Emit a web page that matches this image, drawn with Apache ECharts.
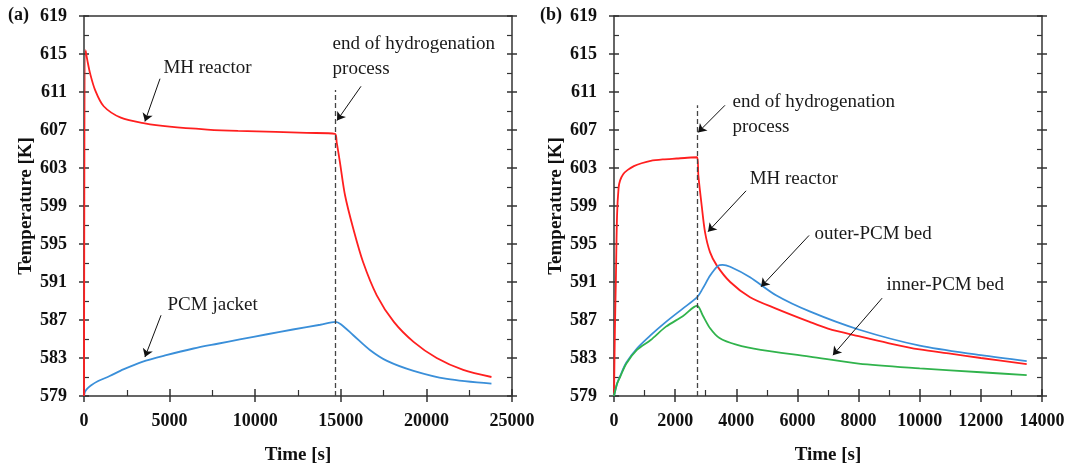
<!DOCTYPE html>
<html>
<head>
<meta charset="utf-8">
<script src="https://cdn.jsdelivr.net/npm/echarts@6/dist/echarts.min.js"></script>
<style>
  * { margin: 0; padding: 0; }
  #main { width: 1070px; height: 470px; background: #fff; }
</style>
</head>
<body>
<div id="main"></div>
<script>
  // (a) MH reactor with PCM jacket
  var aMhTime  = [0, 90, 200, 350, 650, 1150, 2150, 3550, 5000, 7200, 9000, 11200, 13000, 14660, 14760, 14950, 15250, 15730, 16300, 17100, 18100, 19250, 20600, 22150, 23800];
  var aMhTemp  = [579, 615.4, 614.3, 613.0, 611.2, 609.5, 608.3, 607.7, 607.35, 607.05, 606.9, 606.8, 606.7, 606.6, 605.7, 603.6, 600.1, 596.6, 593.1, 589.6, 586.8, 584.7, 583.0, 581.75, 581.0];
  var aPcmTime = [0, 50, 150, 400, 800, 1500, 2300, 3400, 4800, 6400, 7800, 9100, 10700, 12200, 13800, 14700, 15000, 15730, 16700, 17700, 19250, 21200, 23800];
  var aPcmTemp = [579, 579.4, 579.7, 580.1, 580.55, 581.1, 581.8, 582.6, 583.3, 584.0, 584.5, 584.95, 585.5, 586.0, 586.5, 586.8, 586.55, 585.4, 583.85, 582.7, 581.65, 580.8, 580.3];

  // (b) MH reactor with outer and inner PCM beds
  var bMhTime    = [0, 30, 60, 100, 150, 200, 300, 450, 650, 900, 1200, 1600, 2050, 2400, 2720, 2760, 2870, 2980, 3140, 3360, 3800, 4450, 5300, 6400, 7000, 8000, 9000, 10000, 11000, 12000, 13500];
  var bMhTemp    = [579, 586, 591, 598, 600.9, 601.7, 602.35, 602.8, 603.2, 603.5, 603.75, 603.9, 604.0, 604.08, 604.13, 602.2, 599.0, 596.2, 594.15, 592.75, 591.0, 589.4, 588.2, 586.8, 586.1, 585.3, 584.55, 583.9, 583.45, 583.0, 582.35];
  var bOuterTime = [0, 100, 200, 400, 750, 1200, 1700, 2250, 2720, 2900, 3150, 3400, 3550, 3800, 4450, 5300, 6400, 8000, 10000, 12000, 13500];
  var bOuterTemp = [579, 580.3, 581.1, 582.5, 584.0, 585.4, 586.8, 588.2, 589.4, 590.3, 591.7, 592.7, 592.8, 592.6, 591.5, 589.6, 587.9, 586.0, 584.3, 583.3, 582.67];
  var bInnerTime = [0, 100, 200, 400, 750, 1200, 1700, 2250, 2720, 2900, 3150, 3450, 4000, 4800, 6400, 8000, 10000, 12000, 13500];
  var bInnerTemp = [579, 580.3, 581.0, 582.4, 583.85, 584.9, 586.3, 587.4, 588.5, 587.5, 586.1, 585.1, 584.4, 583.85, 583.15, 582.4, 581.9, 581.5, 581.2];

  var tempMin = 579, tempMax = 619, tempStep = 4;
  var aTimeMax = 25000, aTimeStep = 5000;
  var bTimeMax = 14000, bTimeStep = 2000;

  var serif = 'Liberation Serif';
  var axisColor = '#333';

  function pairs(xs, ys) {
    return xs.map(function (x, i) { return [x, ys[i]]; });
  }

  // x axes of one panel: bottom (labels, inner ticks), bottom outer ticks, top border
  function xAxes(g, max, step) {
    var base = { type: 'value', gridIndex: g, min: 0, max: max, interval: step, splitLine: { show: false } };
    return [
      Object.assign({}, base, {
        position: 'bottom',
        name: 'Time [s]', nameLocation: 'middle', nameGap: 50,
        nameTextStyle: { fontFamily: serif, fontWeight: 'bold', fontSize: 19, color: '#111' },
        axisLine: { onZero: false, lineStyle: { color: axisColor, width: 1.5 } },
        axisTick: { inside: true, length: 7, lineStyle: { color: axisColor, width: 1.5 } },
        minorTick: { show: true, splitNumber: 2, length: 6, lineStyle: { color: axisColor, width: 1.2 } },
        axisLabel: { margin: 16, fontFamily: serif, fontWeight: 'bold', fontSize: 18, color: '#111',
          formatter: function (v) { return String(v); } }
      }),
      Object.assign({}, base, {
        position: 'bottom',
        axisLine: { show: false, onZero: false },
        axisTick: { inside: false, length: 6, lineStyle: { color: axisColor, width: 1.5 } },
        axisLabel: { show: false }
      }),
      Object.assign({}, base, {
        position: 'top',
        axisLine: { onZero: false, lineStyle: { color: axisColor, width: 1.5 } },
        axisTick: { show: false },
        axisLabel: { show: false }
      })
    ];
  }

  // y axes of one panel: left (labels), left outer ticks, right inner ticks, right outer ticks
  function yAxes(g) {
    var base = { type: 'value', gridIndex: g, min: tempMin, max: tempMax, interval: tempStep, splitLine: { show: false } };
    var inTick = { inside: true, length: 5, lineStyle: { color: axisColor, width: 1.5 } };
    var outTick = { inside: false, length: 5, lineStyle: { color: axisColor, width: 1.5 } };
    var minor = { show: true, splitNumber: 2, length: 5, lineStyle: { color: axisColor, width: 1.2 } };
    return [
      Object.assign({}, base, {
        position: 'left',
        name: 'Temperature [K]', nameLocation: 'middle', nameGap: 48,
        nameTextStyle: { fontFamily: serif, fontWeight: 'bold', fontSize: 19, color: '#111' },
        axisLine: { onZero: false, lineStyle: { color: axisColor, width: 1.5 } },
        axisTick: inTick, minorTick: minor,
        axisLabel: { margin: 17, fontFamily: serif, fontWeight: 'bold', fontSize: 18, color: '#111' }
      }),
      Object.assign({}, base, {
        position: 'left',
        axisLine: { show: false, onZero: false },
        axisTick: outTick, axisLabel: { show: false }
      }),
      Object.assign({}, base, {
        position: 'right',
        axisLine: { onZero: false, lineStyle: { color: axisColor, width: 1.5 } },
        axisTick: inTick, minorTick: minor, axisLabel: { show: false }
      }),
      Object.assign({}, base, {
        position: 'right',
        axisLine: { show: false, onZero: false },
        axisTick: outTick, axisLabel: { show: false }
      })
    ];
  }

  function curve(name, xi, yi, data, color) {
    return {
      name: name, type: 'line', xAxisIndex: xi, yAxisIndex: yi,
      data: data, showSymbol: false, smooth: 0.3,
      lineStyle: { color: color, width: 1.8 }, itemStyle: { color: color },
      silent: true, animation: false
    };
  }

  function arrows(list) {
    return {
      silent: true, symbol: ['none', 'arrow'], symbolSize: 8, animation: false,
      lineStyle: { color: '#111', width: 1, type: 'solid' },
      label: { show: false },
      data: list.map(function (a) { return [{ coord: a[0] }, { coord: a[1] }]; })
    };
  }

  function dashed(x, top) {
    return {
      silent: true, symbol: ['none', 'none'], animation: false,
      lineStyle: { color: '#444', width: 1.3, type: [5, 3] },
      label: { show: false },
      data: [[{ coord: [x, tempMin] }, { coord: [x, top] }]]
    };
  }

  function notes(list) {
    return {
      silent: true, symbol: 'circle', symbolSize: 1, animation: false,
      itemStyle: { color: 'rgba(0,0,0,0)' },
      label: { show: true, position: 'right', distance: 0, fontFamily: serif, fontSize: 19,
        color: '#1a1a1a', lineHeight: 25, formatter: '{b}' },
      data: list.map(function (n) { return { name: n[0], coord: n[1] }; })
    };
  }

  var red = '#ff1f1f', blue = '#3a8fd9', green = '#30b34c';

  var aMh = curve('MH reactor', 0, 0, pairs(aMhTime, aMhTemp), red);
  aMh.markLine = arrows([
    [[4440, 612.4], [3560, 607.9]],
    [[16180, 611.6], [14780, 608.0]],
    [[4500, 587.5], [3560, 583.1]]
  ]);
  aMh.markPoint = notes([
    ['MH reactor', [4610, 613.55]],
    ['end of hydrogenation\nprocess', [14490, 614.7]],
    ['PCM jacket', [4850, 588.6]]
  ]);
  var aPcm = curve('PCM jacket', 0, 0, pairs(aPcmTime, aPcmTemp), blue);
  aPcm.markLine = dashed(14660, 611.2);

  var bMh = curve('MH reactor', 3, 4, pairs(bMhTime, bMhTemp), red);
  bMh.markLine = arrows([
    [[3630, 609.6], [2750, 606.75]],
    [[4320, 600.6], [3075, 596.3]],
    [[6380, 595.9], [4810, 590.5]],
    [[8770, 589.3], [7160, 583.3]]
  ]);
  bMh.markPoint = notes([
    ['end of hydrogenation\nprocess', [3860, 608.6]],
    ['MH reactor', [4420, 601.8]],
    ['outer-PCM bed', [6540, 596.1]],
    ['inner-PCM bed', [8900, 590.7]]
  ]);
  var bOuter = curve('outer-PCM bed', 3, 4, pairs(bOuterTime, bOuterTemp), blue);
  var bInner = curve('inner-PCM bed', 3, 4, pairs(bInnerTime, bInnerTemp), green);
  bInner.markLine = dashed(2726, 609.6);

  var chart = echarts.init(document.getElementById('main'));
  chart.setOption({
    animation: false,
    backgroundColor: '#fff',
    grid: [
      { left: 84, top: 16, width: 428, height: 382 },
      { left: 614, top: 16, width: 428, height: 382 }
    ],
    xAxis: xAxes(0, aTimeMax, aTimeStep).concat(xAxes(1, bTimeMax, bTimeStep)),
    yAxis: yAxes(0).concat(yAxes(1)),
    graphic: [
      { type: 'text', left: 8, top: 6, style: { text: '(a)', font: 'bold 18px "Liberation Serif"', fill: '#111' } },
      { type: 'text', left: 540, top: 6, style: { text: '(b)', font: 'bold 18px "Liberation Serif"', fill: '#111' } }
    ],
    series: [aPcm, aMh, bMh, bOuter, bInner]
  });
</script>
</body>
</html>
